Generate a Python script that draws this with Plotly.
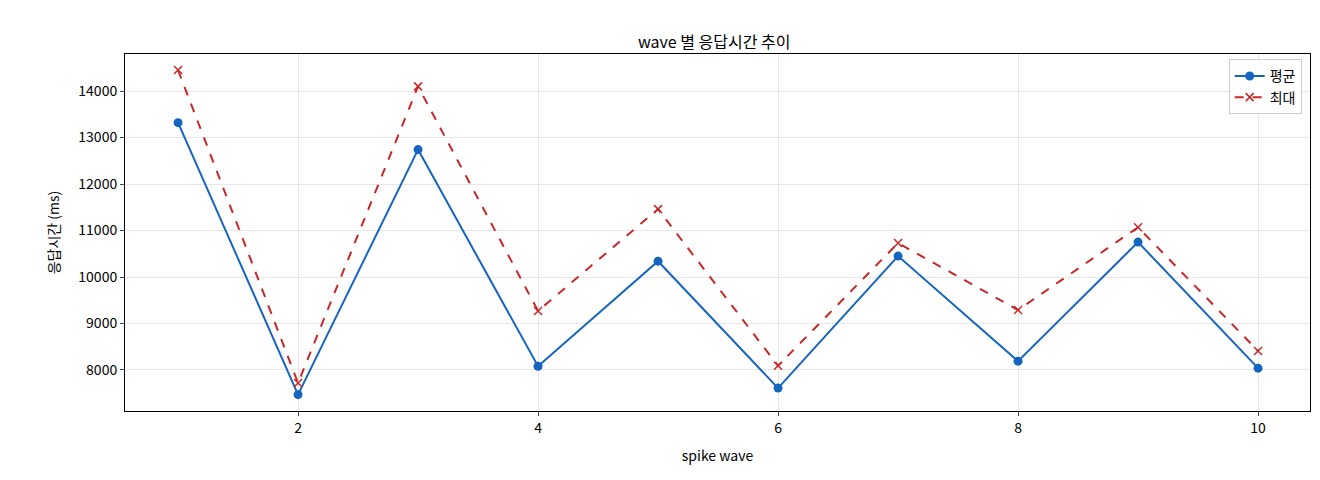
import plotly.graph_objects as go

waves = [1, 2, 3, 4, 5, 6, 7, 8, 9, 10]
avg_ms = [13320, 7470, 12740, 8080, 10340, 7610, 10450, 8190, 10750, 8040]
max_ms = [14450, 7720, 14100, 9270, 11460, 8090, 10730, 9290, 11070, 8410]

fig = go.Figure()
fig.add_trace(go.Scatter(
    x=waves, y=avg_ms, name="평균", mode="lines+markers",
    line=dict(color="#1565c0", width=2),
    marker=dict(symbol="circle", size=9, color="#1565c0")))
fig.add_trace(go.Scatter(
    x=waves, y=max_ms, name="최대", mode="lines+markers",
    line=dict(color="#c62828", width=2, dash="dash"),
    marker=dict(symbol="x-thin", size=8, line=dict(color="#c62828", width=1.5))))

axis = dict(showline=True, linecolor="black", mirror=True, ticks="outside",
            ticklen=4, gridcolor="#e6e6e6", zeroline=False, automargin=False,
            tickfont=dict(size=14))
fig.update_layout(
    width=1320, height=480,
    margin=dict(l=117, r=18, t=46, b=77),
    plot_bgcolor="white", paper_bgcolor="white",
    font=dict(family="Noto Sans CJK KR", color="black", size=14),
    title=dict(text="wave 별 응답시간 추이", x=0.535, y=0.94, xanchor="center",
               font=dict(size=16), automargin=False),
    xaxis=dict(axis, range=[0.558, 10.433], tickvals=[2, 4, 6, 8, 10],
               title=dict(text="spike wave", font=dict(size=14))),
    yaxis=dict(axis, range=[7118, 14796], dtick=1000, tickformat="d",
               title=dict(text="응답시간 (ms)", font=dict(size=14))),
    legend=dict(x=0.993, y=0.985, xanchor="right", yanchor="top",
                bordercolor="#cccccc", borderwidth=1, bgcolor="white",
                font=dict(size=14)),
)

fig.write_html("out.html")
